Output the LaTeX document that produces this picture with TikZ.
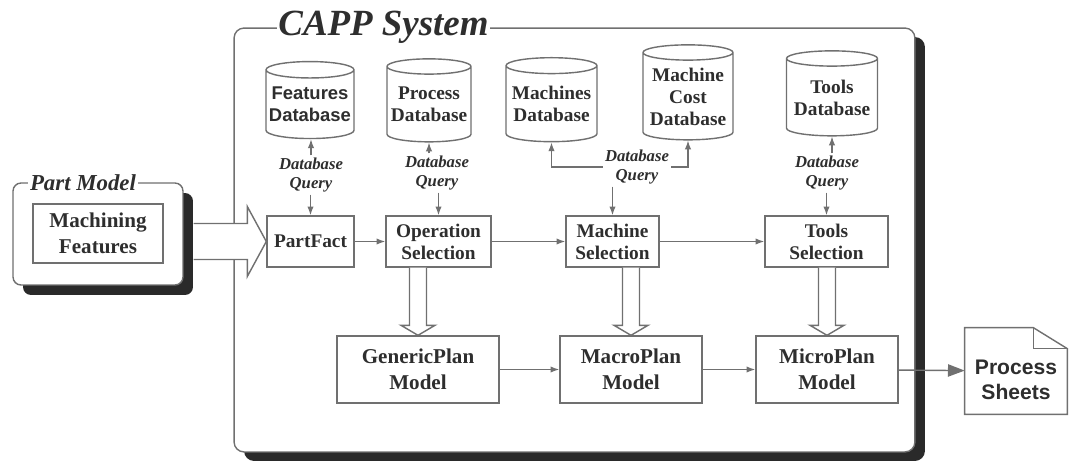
\documentclass[tikz,border=0pt]{standalone}
\usepackage{fontspec}
\setmainfont{Liberation Serif}
\newfontfamily\arialfont{Liberation Sans}
\usetikzlibrary{shapes.geometric,shadows,calc,arrows.meta}
\definecolor{inkgray}{HTML}{2E2E2E}
\definecolor{linegray}{HTML}{707070}
\definecolor{shadowgray}{HTML}{2A2A2A}
\tikzset{
  procbox/.style={draw=linegray, line width=0.8pt, fill=white, align=center, text=inkgray,
    inner sep=0pt, font=\fontsize{11}{12.5}\selectfont\bfseries},
  planbox/.style={procbox, font=\fontsize{12}{14.5}\selectfont\bfseries},
  dbase/.style={cylinder, shape border rotate=90, aspect=0.2, draw=linegray, line width=0.8pt,
    fill=white, align=center, text=inkgray, inner sep=0pt, font=\fontsize{11}{12.5}\selectfont\bfseries},
  query/.style={align=center, text=inkgray, inner sep=1pt, fill=white,
    font=\fontsize{9.5}{11.3}\selectfont\bfseries\itshape},
  flow/.style={-{Latex[length=5pt,width=3.6pt]}, draw=linegray, line width=0.7pt},
  hollow/.style={draw=linegray, fill=white, line width=0.8pt, line join=miter},
  frametitle/.style={fill=white, text=inkgray, inner sep=1pt, font=\bfseries\itshape}
}
\begin{document}
\begin{tikzpicture}[x=0.02cm, y=-0.02cm]
  \useasboundingbox (0,0) rectangle (1069,461);
  % system frame
  \node[draw=linegray, line width=0.8pt, fill=white, rounded corners=2mm,
        minimum width=136.2mm, minimum height=84.8mm,
        drop shadow={shadow xshift=2mm, shadow yshift=-1.8mm, opacity=1, fill=shadowgray}]
        (capp) at (574.5,240) {};
  \node[frametitle, font=\fontsize{21}{24}\selectfont\bfseries\itshape] (capptitle) at (383.5,27) {CAPP System};
  % part model
  \node[draw=linegray, line width=0.8pt, fill=white, rounded corners=1.6mm,
        minimum width=34mm, minimum height=20.4mm,
        drop shadow={shadow xshift=2mm, shadow yshift=-2mm, opacity=1, fill=shadowgray}]
        (partmodel) at (98,234) {};
  \node[frametitle, font=\fontsize{13}{15}\selectfont\bfseries\itshape] (parttitle) at (83,183) {Part Model};
  \node[planbox, minimum width=26mm, minimum height=11.8mm] (features) at (98,233.5) {Machining\\Features};
  % databases
  \node[dbase, minimum width=17.6mm, minimum height=15.4mm, font=\arialfont\fontsize{10.5}{12.5}\selectfont\bfseries] (fdb) at (310,104.5) {Features\\Database};
  \node[dbase, minimum width=16.8mm, minimum height=16.6mm] (pdb) at (429,104.5) {Process\\Database};
  \node[dbase, minimum width=18.2mm, minimum height=16.8mm] (mdb) at (551.5,104) {Machines\\Database};
  \node[dbase, minimum width=18mm, minimum height=19mm] (cdb) at (688,96.5) {Machine\\Cost\\Database};
  \node[dbase, minimum width=18.2mm, minimum height=17mm] (tdb) at (832,97.5) {Tools\\Database};
  % queries
  \node[query] (q1) at (311,175) {Database\\Query};
  \node[query] (q2) at (437,173) {Database\\Query};
  \node[query] (q3) at (637,167) {Database\\Query};
  \node[query] (q4) at (827,173) {Database\\Query};
  % process steps
  \node[procbox, minimum width=17.4mm, minimum height=10.2mm] (partfact) at (310.5,241.5) {PartFact};
  \node[procbox, minimum width=21mm, minimum height=10.2mm] (opsel) at (438.5,241.5) {Operation\\Selection};
  \node[procbox, minimum width=18.6mm, minimum height=10.2mm] (machsel) at (612.5,241.5) {Machine\\Selection};
  \node[procbox, minimum width=24.6mm, minimum height=10.2mm] (toolsel) at (826.5,241.5) {Tools\\Selection};
  \node[planbox, minimum width=32.4mm, minimum height=13.4mm] (generic) at (418,369.5) {GenericPlan\\Model};
  \node[planbox, minimum width=28.4mm, minimum height=13.4mm] (macro) at (631,369.5) {MacroPlan\\Model};
  \node[planbox, minimum width=28.4mm, minimum height=13.4mm] (micro) at (827,369.5) {MicroPlan\\Model};
  % output
  \node[minimum width=20.4mm, minimum height=17.2mm, inner sep=0pt] (sheets) at (1016,371) {};
  \draw[draw=linegray, line width=0.8pt, fill=white]
    (sheets.north west) -- ($(sheets.north east)+(-34,0)$) -- ($(sheets.north east)+(0,21)$)
    -- (sheets.south east) -- (sheets.south west) -- cycle;
  \draw[draw=linegray, line width=0.8pt]
    ($(sheets.north east)+(-34,0)$) -- ($(sheets.north east)+(-34,21)$) -- ($(sheets.north east)+(0,21)$);
  \node[text=inkgray, align=center, font=\arialfont\fontsize{12}{14.5}\selectfont\bfseries] (sheetstext) at ($(sheets.center)+(0,9)$) {Process\\Sheets};
  % database queries
  \draw[flow] (q1.north) -- (q1.north |- fdb.south);
  \draw[flow] (partfact.north |- q1.south) -- (partfact.north);
  \draw[flow] (pdb.south |- q2.north) -- (pdb.south);
  \draw[flow] (opsel.north |- q2.south) -- (opsel.north);
  \draw[flow] (q3.west) -| (mdb.south);
  \draw[flow] (q3.east) -| (cdb.south);
  \draw[flow] (machsel.north |- q3.south) -- (machsel.north);
  \draw[flow] (tdb.south |- q4.north) -- (tdb.south);
  \draw[flow] (toolsel.north |- q4.south) -- (toolsel.north);
  % main flow
  \draw[flow] (partfact) -- (opsel);
  \draw[flow] (opsel) -- (machsel);
  \draw[flow] (machsel) -- (toolsel);
  \draw[flow] (generic) -- (macro);
  \draw[flow] (macro) -- (micro);
  \draw[draw=linegray, line width=0.8pt, -{Triangle[length=9.5pt,width=7pt]}] (micro) -- (sheets);
  % hollow arrows
  \foreach \a/\b in {opsel/generic, machsel/macro, toolsel/micro} {
    \draw[hollow] ($(\a.south -| \b.north)+(-8.5,0)$) -- ($(\b.north)+(-8.5,-10)$)
      -- ($(\b.north)+(-17,-10)$) -- (\b.north) -- ($(\b.north)+(17,-10)$)
      -- ($(\b.north)+(8.5,-10)$) -- ($(\a.south -| \b.north)+(8.5,0)$);
  }
  \draw[hollow] ($(partmodel.east |- partfact.west)+(10,-18)$) -- ($(partfact.west)+(-19,-18)$)
    -- ($(partfact.west)+(-19,-35)$) -- (partfact.west) -- ($(partfact.west)+(-19,35)$)
    -- ($(partfact.west)+(-19,18)$) -- ($(partmodel.east |- partfact.west)+(10,18)$);
\end{tikzpicture}
\end{document}
